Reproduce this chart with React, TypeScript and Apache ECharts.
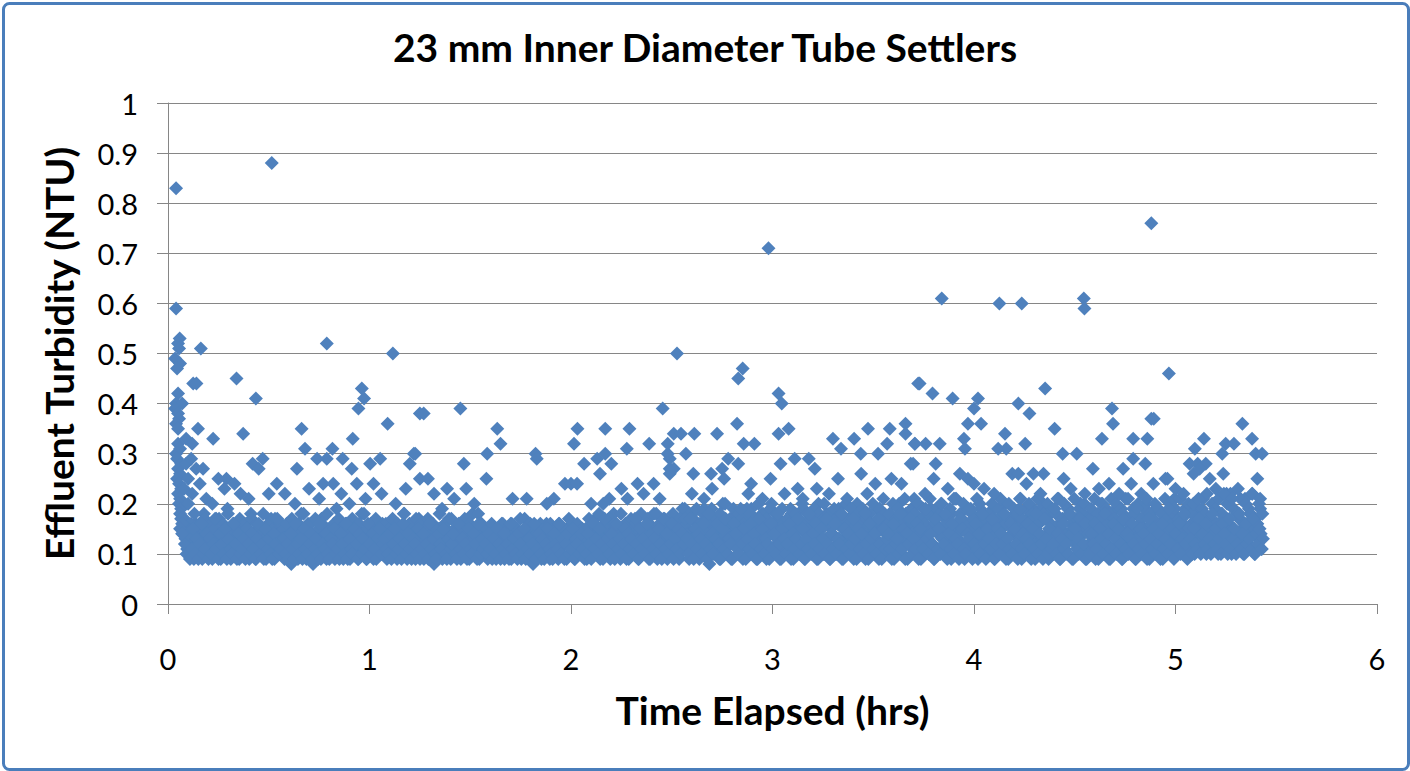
import React, { useEffect, useRef } from "react";
import * as echarts from "echarts";

// ---- Data ----
const X_TICKS = [0, 1, 2, 3, 4, 5, 6];
const Y_TICKS = [0, 0.1, 0.2, 0.3, 0.4, 0.5, 0.6, 0.7, 0.8, 0.9, 1];

// Regularly logged readings of the dense band (turbidity in hundredths of NTU).
// The logger records every 10 s; each 30 s cycle is split into three slots:
// A = 0 s, C = 10 s, B = 20 s after the start of the cycle.
const BAND_START_HRS = 0.07;
const CYCLE_HRS = 1 / 120;

const bandA0 = [17,15,13,11,14,10,12,9,16,11,10,13,9,18,12,10,15,11,9,14,12,10,17,9,11,13,10,19,12,9,15,11,10,14,9,12,16,10,11,13,9,18,10,12,9,14,11,10,15,12,9,13,10,17,11,9,12,14,10,16];
const bandA1 = [11,9,13,10,15,8,12,10,14,9,11,18,10,12,9,16,11,13,8,10,14,9,12,17,10,11,9,13,15,10,12,9,19,11,10,14,9,12,16,10,9,13,11,15,10,9,12,18,11,14,9,10,13,16,9,11,12,15,10,14];
const bandA2 = [10,12,9,16,11,13,10,15,9,12,14,10,18,11,9,13,10,15,12,9,11,17,10,13,9,14,11,10,16,12,8,13,10,15,11,9,12,14,10,17,9,11,13,10,15,12,9,16,11,10,14,9,12,18,10,13,11,9,15,12];
const bandA3 = [10,13,9,11,15,10,12,9,14,11,10,16,9,12,13,10,9,15,11,12,10,14,9,11,17,10,12,9,13,8,15,11,10,12,9,14,10,16,11,9,13,10,12,15,9,11,10,14,12,9,13,10,16,11,9,12,15,10,13,11];
const bandA4 = [12,9,15,10,13,11,17,10,12,9,14,11,16,10,13,9,12,18,10,11,14,9,13,10,16,12,9,15,11,10,13,17,9,12,14,10,11,15,9,13,10,18,12,9,14,11,16,10,13,9,15,12,10,17,11,14,9,12,19,13];
const bandA5 = [11,15,9,13,18,10,12,16,9,14,11,19,10,13,8,15,12,17,10,14,9,12,20,11,13,10,16,9,14,12,18,10,11,15,9,13,17,10,12,19,11,14,9,16,12,10,18,13,9,15,11,20,10,14,12,17,9,13,11,16];
const bandA6 = [10,14,12,18,9,13,11,16,10,15,19,9,12,14,11,17,10,13,9,20,12,15,10,11,18,13,9,14,16,10,12,19,11,9,15,13,10,17,12,14,9,11,20,13,10,16,12,9,18,14,11,15,10,13,19,9,12,16,11,14];
const bandA7 = [12,10,17,13,9,15,11,20,14,10,12,18,9,16,13,11,21,10,14,12,9,17,15,11,13,10,19,12,9,16,14,11,20,13,10,15,12,18,9,14,11,21,13,10,16,12,9,19,14,11,15,10,17,13,9,20,12,16,11,14];
const bandA8 = [10,15,12,19,9,14,11,17,13,10,20,12,9,16,14,11,18,10,13,21,9,15,12,10,17,14,11,19,9,13,16,10,12,20,11,14,9,18,13,10,15,12,21,9,16,11,14,10,19,13,9,17,12,15,10,20,11,14,9,16];
const bandA9 = [12,18,10,14,9,16,13,11,20,10,15,12,9,17,14,11,19,10,13,16,9,12,21,11,15,10,14,18,9,13,11,17,12,10,20,14,9,16,11,13,19,10,15,12,9,18,11,14,16,10,13,21,12,11,15,17,10,14,12,19];
const bandA10 = [11,16,13,10,19,12,15,11,21,14,10,17,13,12,20,11,16,10,14,18,12,11,22,13,15,10,19,12,14,11,17,13,10,21,15,12,18,11,14,10,16,13,19,11];

const bandB0 = [16,12,10,14,9,11,15,10,13,9,12,16,10,11,14,9,13,10,12,17,11,9,14,12,10,15,9,13,11,10,16,12,9,14,10,11,13,9,15,12,10,14,11,9,13,16,10,12,9,15,11,13,10,9,14,12,17,10,11,13];
const bandB1 = [13,10,12,9,14,11,9,16,12,10,13,9,15,11,10,12,14,9,11,13,10,16,9,12,11,14,10,9,13,12,15,10,11,9,14,12,10,16,9,13,11,10,15,12,9,14,10,13,11,9,16,12,10,14,11,9,13,15,10,12];
const bandB2 = [13,11,10,14,9,12,15,10,11,13,9,16,12,10,14,11,9,13,12,10,15,9,11,14,10,12,9,16,11,13,10,9,14,12,11,15,10,9,13,11,12,14,10,9,16,11,13,10,12,9,15,11,10,14,12,9,16,10,13,11];
const bandB3 = [12,10,14,11,9,13,10,15,12,9,11,14,10,12,9,16,11,13,10,9,14,12,10,15,9,11,13,10,12,16,9,11,14,10,13,9,12,15,11,10,9,14,12,11,16,10,13,9,12,14,10,11,15,9,13,12,10,14,11,9];
const bandB4 = [10,14,12,9,16,11,13,10,15,12,9,17,11,13,10,14,12,9,16,11,13,10,12,15,9,14,11,13,10,17,12,9,15,11,13,10,16,12,9,14,11,13,10,15,12,9,17,11,14,10,12,16,9,13,11,15,10,14,12,17];
const bandB5 = [13,10,17,12,9,15,11,14,13,10,16,12,9,18,11,14,10,13,16,12,9,15,11,17,10,13,12,9,16,14,11,10,19,12,15,9,13,11,16,10,14,12,9,17,11,15,10,13,12,9,16,11,14,10,18,12,9,15,13,10];
const bandB6 = [12,16,9,14,11,13,17,10,12,15,9,13,11,18,10,14,12,16,9,11,15,13,10,17,12,9,14,11,16,10,13,12,18,9,15,11,14,10,12,17,13,9,15,11,14,10,18,12,9,16,13,11,14,10,17,12,9,15,11,13];
const bandB7 = [14,11,9,16,12,13,10,18,11,15,9,14,12,17,10,13,11,16,9,15,12,11,19,13,10,14,12,9,17,11,15,10,13,12,18,9,14,11,16,10,13,12,9,17,15,11,10,14,13,19,9,12,16,11,14,10,18,12,9,15];
const bandB8 = [13,11,17,9,12,15,10,14,12,18,9,13,11,16,10,15,12,9,19,11,14,10,13,16,12,9,15,11,18,10,14,12,9,17,13,10,15,11,12,19,10,14,9,13,16,11,12,10,18,14,9,15,11,13,17,10,12,16,9,14];
const bandB9 = [10,14,12,16,11,9,15,13,10,18,12,14,9,11,16,13,10,15,12,9,17,11,14,10,13,16,12,9,19,11,15,10,14,12,9,17,13,11,15,10,12,14,9,16,11,13,10,19,12,15,9,14,11,16,10,13,18,12,9,15];
const bandB10 = [13,10,15,12,11,17,10,14,12,16,11,13,10,18,12,15,11,13,10,16,14,12,10,17,11,13,15,10,12,18,11,14,10,16,12,13,11,17,10,14,12,15,11,13];

const bandC0 = [14,17,12,15,13,16,11,18,14,12,16,13,15,17,12,14,13,16,11,15,17,13,14,12,16,15,13,18,12,14,16,11,15,13,17,14,12,16,13,15,12,17,14,13,16,12,15,14,18,13,11,16,14,12,15,17,13,14,16,12];
const bandC1 = [15,13,16,12,14,17,13,15,12,16,14,13,18,12,15,14,16,13,12,17,14,15,13,16,12,14,18,13,15,12,16,14,13,17,15,12,14,16,13,15,12,17,14,13,15,16,12,14,18,13,15,12,16,14,13,17,12,15,14,16];
const bandC2 = [14,16,13,15,12,17,14,13,16,15,12,14,18,13,15,16,12,14,13,17,15,12,16,14,13,15,17,12,14,16,13,15,12,18,14,13,16,15,12,14,17,13,15,14,12,16,13,15,17,14,12,16,13,15,14,12,18,13,16,14];
const bandC3 = [13,15,12,14,16,13,12,15,14,13,16,12,14,15,13,12,16,14,13,15,12,17,14,13,15,12,14,16,13,12,15,14,13,16,12,15,14,13,12,16,14,13,15,12,16,14,13,15,12,14,17,13,12,15,14,16,13,12,15,14];
const bandC4 = [15,13,17,14,12,16,15,13,18,14,12,16,13,15,17,14,12,16,15,13,14,18,12,15,16,13,14,17,15,12,16,14,13,18,15,14,12,17,16,13,15,14,18,12,16,15,13,17,14,16,12,15,18,13,14,16,17,15,13,19];
const bandC5 = [16,14,18,13,17,15,19,14,16,12,18,15,17,13,16,19,14,15,17,13,18,16,14,20,15,13,17,16,19,14,15,18,13,17,16,14,19,15,18,13,16,17,14,20,15,18,13,16,17,15,19,14,16,18,13,17,15,19,16,14];
const bandC6 = [17,15,19,14,16,18,13,17,15,20,16,14,18,15,17,13,19,16,14,18,15,17,20,13,16,18,15,14,19,17,16,13,18,15,17,20,14,16,19,15,13,17,18,16,14,19,15,17,13,18,16,20,15,14,17,19,16,15,18,14];
const bandC7 = [16,18,14,20,15,17,19,13,18,16,21,15,17,14,19,16,18,15,20,14,17,19,16,13,18,21,15,17,16,19,14,18,20,15,17,16,13,19,18,15,21,16,14,18,17,20,15,16,19,14,18,17,15,21,16,19,14,18,17,15];
const bandC8 = [18,15,20,16,17,14,19,21,15,18,16,13,20,17,15,19,16,18,14,21,17,15,19,16,20,14,18,17,15,21,16,19,13,18,17,20,15,16,19,14,18,21,16,15,17,20,14,19,18,16,15,21,17,14,19,16,18,20,15,17];
const bandC9 = [17,19,15,21,16,18,14,20,17,15,19,16,18,21,14,17,20,15,16,19,18,14,17,21,16,15,19,18,13,20,16,17,15,19,21,14,18,16,17,20,15,19,16,18,14,21,17,15,20,16,18,19,14,17,21,15,16,19,18,20];
const bandC10 = [15,18,20,14,17,21,16,19,13,18,22,15,17,20,14,19,16,21,15,18,17,13,20,16,22,15,19,14,18,17,21,15,16,20,14,19,18,22,15,17,16,20,14,18];

// Individually read scattered readings [hours, NTU]
const peaksStart = [[0.04,0.83],[0.04,0.59],[0.058,0.53],[0.05,0.52],[0.055,0.51],[0.035,0.49],[0.06,0.48],[0.045,0.47],[0.05,0.42],[0.04,0.40],[0.07,0.40],[0.035,0.39],[0.05,0.38],[0.055,0.37],[0.04,0.36],[0.05,0.35],[0.09,0.33],[0.12,0.32],[0.05,0.32],[0.04,0.30],[0.06,0.31],[0.045,0.29],[0.065,0.28],[0.05,0.27],[0.06,0.26],[0.045,0.25],[0.055,0.24],[0.065,0.23],[0.05,0.22],[0.06,0.21],[0.055,0.2],[0.065,0.19],[0.06,0.18],[0.065,0.17],[0.07,0.16],[0.06,0.15],[0.07,0.14],[0.09,0.28],[0.115,0.29],[0.14,0.27],[0.1,0.25],[0.08,0.23],[0.12,0.22],[0.1,0.2]];
const peaksHour0 = [[0.163,0.51],[0.515,0.88],[0.788,0.52],[0.34,0.45],[0.125,0.44],[0.141,0.44],[0.436,0.41],[0.962,0.43],[0.973,0.41],[0.945,0.39],[0.149,0.35],[0.373,0.34],[0.224,0.33],[0.663,0.35],[0.917,0.33],[0.68,0.31],[0.816,0.31],[0.788,0.29],[0.74,0.29],[0.867,0.29],[0.47,0.29],[0.42,0.28],[0.45,0.27],[0.174,0.27],[0.912,0.27],[0.64,0.27],[0.158,0.24],[0.54,0.24],[0.937,0.24],[0.77,0.24],[0.82,0.24],[0.25,0.25],[0.29,0.25],[0.33,0.24],[0.36,0.22],[0.19,0.21],[0.22,0.2],[0.28,0.23],[0.4,0.21],[0.5,0.22],[0.58,0.22],[0.63,0.2],[0.7,0.23],[0.75,0.21],[0.86,0.22],[0.9,0.2],[0.98,0.21]];
const peaksHour1 = [[1.116,0.50],[1.09,0.36],[1.25,0.38],[1.053,0.29],[1.003,0.28],[1.22,0.30],[1.2,0.28],[1.02,0.24],[1.06,0.22],[1.13,0.2],[1.18,0.23],[1.269,0.38],[1.451,0.39],[1.634,0.35],[1.65,0.32],[1.584,0.30],[1.824,0.30],[1.83,0.29],[1.227,0.30],[1.468,0.28],[1.58,0.25],[1.48,0.23],[1.25,0.25],[1.29,0.25],[1.97,0.24],[1.385,0.23],[1.71,0.21],[1.78,0.21],[1.915,0.21],[1.32,0.22],[1.42,0.21],[1.52,0.2],[1.36,0.19],[1.88,0.2]];
const peaksHour2 = [[2.455,0.39],[2.032,0.35],[2.015,0.32],[2.17,0.35],[2.29,0.35],[2.388,0.32],[2.277,0.31],[2.065,0.28],[2.13,0.29],[2.17,0.30],[2.2,0.28],[2.144,0.26],[2.0,0.24],[2.03,0.24],[2.25,0.23],[2.33,0.24],[2.41,0.24],[2.49,0.29],[2.49,0.27],[2.16,0.2],[2.19,0.21],[2.1,0.2],[2.28,0.21],[2.36,0.22],[2.44,0.21],[2.526,0.50],[2.852,0.47],[2.83,0.45],[2.98,0.71],[2.824,0.36],[2.725,0.34],[2.612,0.34],[2.51,0.34],[2.546,0.34],[2.857,0.32],[2.91,0.32],[2.48,0.30],[2.48,0.32],[2.57,0.30],[2.78,0.29],[2.83,0.28],[2.99,0.25],[2.607,0.26],[2.695,0.26],[2.7,0.23],[2.894,0.24],[2.49,0.26],[2.51,0.27],[2.75,0.27],[2.76,0.25],[2.6,0.22],[2.66,0.21],[2.88,0.22],[2.95,0.21]];
const peaksHour3 = [[3.03,0.42],[3.046,0.40],[3.723,0.44],[3.03,0.34],[3.08,0.35],[3.30,0.33],[3.34,0.31],[3.405,0.33],[3.474,0.35],[3.582,0.35],[3.569,0.32],[3.66,0.36],[3.66,0.34],[3.706,0.32],[3.438,0.30],[3.524,0.30],[3.686,0.28],[3.04,0.28],[3.11,0.29],[3.18,0.29],[3.21,0.27],[3.325,0.25],[3.125,0.23],[3.44,0.26],[3.51,0.24],[3.59,0.25],[3.64,0.24],[3.06,0.22],[3.15,0.21],[3.22,0.23],[3.28,0.22],[3.37,0.21],[3.47,0.22],[3.55,0.21],[3.84,0.61],[3.73,0.44],[3.794,0.42],[3.894,0.41],[3.97,0.36],[3.95,0.33],[3.955,0.31],[3.707,0.32],[3.76,0.32],[3.83,0.32],[3.698,0.28],[3.81,0.28],[3.8,0.25],[3.757,0.22],[3.93,0.26],[3.97,0.25],[3.87,0.23],[3.9,0.21]];
const peaksHour4 = [[4.02,0.41],[4.0,0.39],[4.035,0.36],[4.126,0.60],[4.237,0.60],[4.545,0.61],[4.548,0.59],[4.88,0.76],[4.967,0.46],[4.22,0.40],[4.275,0.38],[4.353,0.43],[4.40,0.35],[4.685,0.39],[4.69,0.36],[4.88,0.37],[4.635,0.33],[4.79,0.33],[4.86,0.33],[4.154,0.34],[4.12,0.31],[4.16,0.31],[4.254,0.32],[4.44,0.30],[4.51,0.30],[4.79,0.29],[4.85,0.28],[4.74,0.27],[4.59,0.27],[4.445,0.25],[4.48,0.23],[4.295,0.26],[4.345,0.26],[4.19,0.26],[4.22,0.26],[4.55,0.22],[4.67,0.24],[4.78,0.24],[4.89,0.24],[4.95,0.25],[4.0,0.24],[4.05,0.23],[4.1,0.22],[4.26,0.24],[4.33,0.22],[4.62,0.23],[4.72,0.22],[4.83,0.22],[4.892,0.37],[4.96,0.25]];
const peaksHour5 = [[5.332,0.36],[5.141,0.33],[5.38,0.33],[5.096,0.31],[5.249,0.32],[5.29,0.32],[5.232,0.30],[5.398,0.30],[5.43,0.30],[5.07,0.28],[5.11,0.28],[5.15,0.28],[5.09,0.26],[5.12,0.27],[5.237,0.26],[5.406,0.25],[5.17,0.25],[5.2,0.23],[5.24,0.22],[5.31,0.23],[5.38,0.22],[5.42,0.21],[5.0,0.23],[5.04,0.22],[5.28,0.21]];

const TITLE = "23 mm Inner Diameter Tube Settlers";
const X_NAME = "Time Elapsed (hrs)";
const Y_NAME = "Effluent Turbidity (NTU)";

const FONT = "Lato, 'Open Sans', 'DejaVu Sans', sans-serif";
const MARKER = "#4F81BD";

export default function App() {
  const ref = useRef<HTMLDivElement>(null);
  useEffect(() => {
    if (!ref.current) return;
    const chart = echarts.init(ref.current, undefined, { renderer: "svg" });
    const channelA = [bandA0, bandA1, bandA2, bandA3, bandA4, bandA5, bandA6, bandA7, bandA8, bandA9, bandA10].flat();
    const channelB = [bandB0, bandB1, bandB2, bandB3, bandB4, bandB5, bandB6, bandB7, bandB8, bandB9, bandB10].flat();
    const channelC = [bandC0, bandC1, bandC2, bandC3, bandC4, bandC5, bandC6, bandC7, bandC8, bandC9, bandC10].flat();
    const toPoints = (vals: number[], slot: number) =>
      vals.map((v, i) => [BAND_START_HRS + (i + slot / 3) * CYCLE_HRS, v / 100]);
    const peaks = [...peaksStart, ...peaksHour0, ...peaksHour1, ...peaksHour2, ...peaksHour3, ...peaksHour4, ...peaksHour5];
    const data = [...toPoints(channelA, 0), ...toPoints(channelC, 1), ...toPoints(channelB, 2), ...peaks];
    chart.setOption({
      animation: false,
      backgroundColor: "#ffffff",
      title: {
        text: TITLE,
        left: "center",
        top: 22,
        textStyle: { fontFamily: FONT, fontWeight: "bold", fontSize: 39, color: "#000" },
      },
      graphic: [
        {
          type: "rect",
          left: 1,
          top: 1,
          shape: { width: 1405, height: 766, r: 6 },
          style: { fill: "none", stroke: "#4A7EBB", lineWidth: 3 },
          silent: true,
        },
      ],
      grid: { left: 168, right: 33, top: 103, bottom: 167, containLabel: false },
      xAxis: {
        type: "value",
        min: 0,
        max: 6,
        interval: 1,
        name: X_NAME,
        nameLocation: "middle",
        nameGap: 86,
        nameTextStyle: { fontFamily: FONT, fontWeight: "bold", fontSize: 39, color: "#000" },
        axisLine: { show: true, lineStyle: { color: "#868686", width: 1 } },
        axisTick: { show: true, length: 10, lineStyle: { color: "#868686" } },
        splitLine: { show: false },
        axisLabel: {
          fontFamily: FONT,
          fontSize: 29,
          color: "#000",
          margin: 40,
          formatter: (v: number) => (X_TICKS.includes(v) ? String(v) : ""),
        },
      },
      yAxis: {
        type: "value",
        min: 0,
        max: 1,
        interval: 0.1,
        name: Y_NAME,
        nameLocation: "middle",
        nameGap: 90,
        nameRotate: 90,
        nameTextStyle: { fontFamily: FONT, fontWeight: "bold", fontSize: 39, color: "#000" },
        axisLine: { show: true, lineStyle: { color: "#868686", width: 1 } },
        axisTick: { show: true, length: 11, lineStyle: { color: "#868686" } },
        splitLine: { show: true, lineStyle: { color: "#868686", width: 1 } },
        axisLabel: {
          fontFamily: FONT,
          fontSize: 29,
          color: "#000",
          margin: 30,
          formatter: (v: number) => {
            const r = Math.round(v * 10) / 10;
            const hit = Y_TICKS.find((t) => Math.abs(t - r) < 1e-9);
            return hit === undefined ? "" : String(hit);
          },
        },
      },
      series: [
        {
          type: "scatter",
          symbol: "diamond",
          symbolSize: 14,
          itemStyle: { color: MARKER, opacity: 1 },
          data,
          large: false,
        },
      ],
    });
    return () => chart.dispose();
  }, []);
  return (
    <div
      ref={ref}
      style={{ position: "fixed", left: 0, top: 0, width: 1410, height: 771 }}
    />
  );
}
